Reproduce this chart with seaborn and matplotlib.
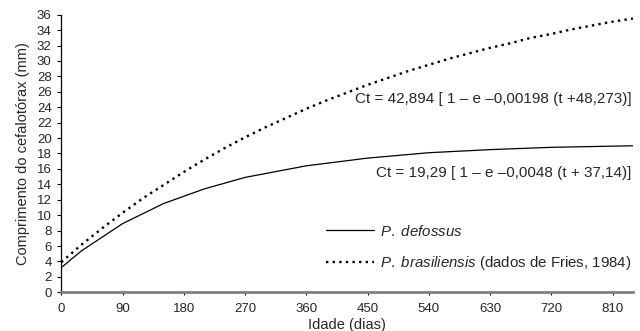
import numpy as np
import pandas as pd
import matplotlib
matplotlib.use("Agg")
import matplotlib.pyplot as plt
import seaborn as sns

# Data
days_def = [0, 30, 90, 150, 210, 270, 360, 450, 540, 630, 720, 840]
len_def = [3.2, 5.4, 8.9, 11.5, 13.4, 14.9, 16.4, 17.4, 18.1, 18.5, 18.8, 19.0]

days_bra = [0, 30, 60, 90, 120, 150, 180, 210, 240, 270, 300, 330, 360, 390, 420,
            450, 480, 510, 540, 570, 600, 630, 660, 690, 720, 750, 780, 810, 840]
len_bra = [3.9, 6.2, 8.3, 10.3, 12.2, 13.9, 15.6, 17.2, 18.7, 20.1, 21.4, 22.6, 23.8,
           24.9, 25.9, 26.9, 27.8, 28.7, 29.5, 30.3, 31.0, 31.7, 32.3, 33.0, 33.5,
           34.1, 34.6, 35.1, 35.5]

x_ticks = [0, 90, 180, 270, 360, 450, 540, 630, 720, 810]
y_ticks = list(range(0, 37, 2))

label_def = r"$\it{P.}$ $\it{defossus}$"
label_bra = r"$\it{P.}$ $\it{brasiliensis}$ (dados de Fries, 1984)"
eq_bra = "Ct = 42,894 [ 1 \u2013 e \u20130,00198 (t +48,273)]"
eq_def = "Ct = 19,29 [ 1 \u2013 e \u20130,0048 (t + 37,14)]"

sns.set_style("white")
plt.rcParams["font.family"] = ["Liberation Sans", "DejaVu Sans"]
plt.rcParams["mathtext.fontset"] = "custom"
plt.rcParams["mathtext.it"] = "Liberation Sans:italic"
plt.rcParams["mathtext.rm"] = "Liberation Sans"

df_def = pd.DataFrame({"dias": days_def, "comp": len_def})
df_bra = pd.DataFrame({"dias": days_bra, "comp": len_bra})

fig = plt.figure(figsize=(6.4, 3.31), dpi=100)
ax = fig.add_axes([0.0958, 0.117, 0.8932, 0.8386])

sns.lineplot(data=df_def, x="dias", y="comp", ax=ax, color="black", linewidth=0.9,
             label=label_def)
sns.lineplot(data=df_bra, x="dias", y="comp", ax=ax, color="black", linewidth=1.7,
             linestyle=(0, (1, 1.8)), label=label_bra)

ax.set_xlim(0, 840)
ax.set_ylim(0, 36)
ax.set_xticks(x_ticks)
ax.set_yticks(y_ticks)
ax.tick_params(axis="y", labelsize=9.5, length=3, width=0.8, color="black",
               direction="out", pad=4, left=True)
ax.tick_params(axis="x", labelsize=9.5, length=2, width=0.8, color="black",
               direction="out", pad=6, bottom=True)

for s in ["top", "right"]:
    ax.spines[s].set_visible(False)
ax.spines["left"].set_color("black")
ax.spines["left"].set_linewidth(0.9)
ax.spines["bottom"].set_color("#808080")
ax.spines["bottom"].set_linewidth(2)

ax.set_xlabel("Idade (dias)", fontsize=10.5, labelpad=2)
ax.set_ylabel("Comprimento do cefalotórax (mm)", fontsize=10.5, labelpad=5)

ax.text(838, 25.1, eq_bra, ha="right", va="center", fontsize=11)
ax.text(838, 15.5, eq_def, ha="right", va="center", fontsize=11)

leg = ax.legend(loc="lower left", bbox_to_anchor=(0.463, 0.072), frameon=False,
                fontsize=10.8, handlelength=3.2, handletextpad=0.4, labelspacing=1.05,
                borderpad=0, borderaxespad=0)

fig.savefig("out.png", dpi=100)
